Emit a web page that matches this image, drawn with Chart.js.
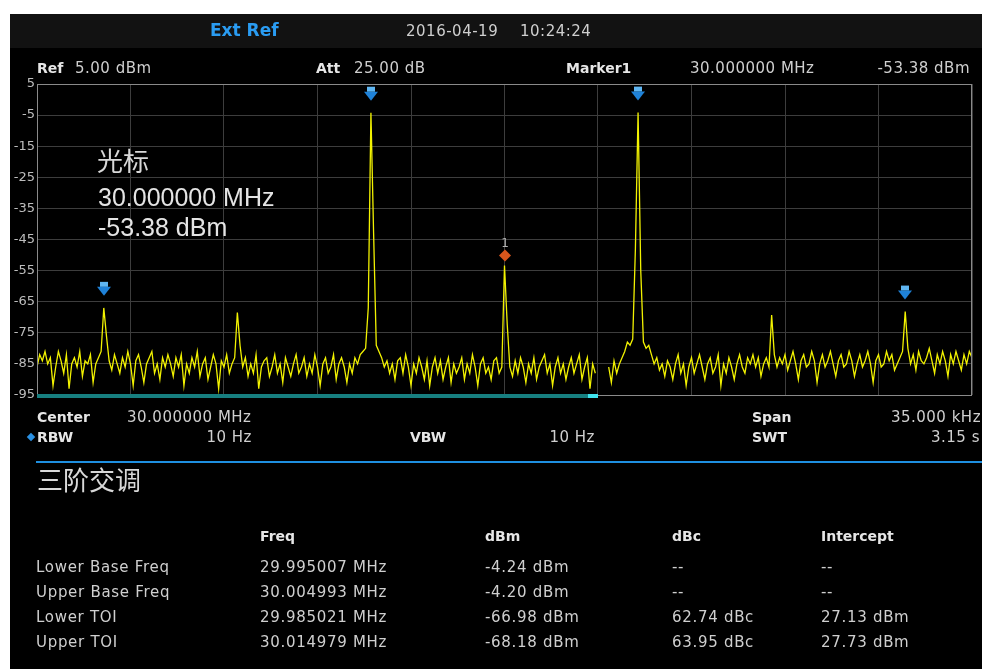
<!DOCTYPE html>
<html>
<head>
<meta charset="utf-8">
<script src="https://cdn.jsdelivr.net/npm/chart.js@4/dist/chart.umd.min.js"></script>
<style>
    html, body { margin: 0; padding: 0; background: #ffffff; }
    #screen { position: absolute; left: 10px; top: 14px; width: 972px; height: 655px; background: #000000; }
    #topbar { position: absolute; left: 10px; top: 14px; width: 972px; height: 34px; background: #121212; }
    #chart-box { position: absolute; left: 0; top: 0; width: 982px; height: 669px; }
    .t { position: absolute; white-space: nowrap; height: 20px; line-height: 20px; font-family: "DejaVu Sans", sans-serif; font-size: 15px; letter-spacing: 0.5px; color: #cfcfcf; }
    .b { font-weight: bold; font-size: 14px; letter-spacing: 0; color: #e6e6e6; }
    .tb { letter-spacing: 0.7px; }
    .r { text-align: right; }
    .big { font-family: "Liberation Sans", Arial, sans-serif; font-size: 25px; letter-spacing: 0; color: #e4e4e4; height: 30px; line-height: 30px; }
    .cjk { font-family: "Noto Sans CJK SC", sans-serif; font-size: 26px; letter-spacing: 0; color: #d8d8d8; height: 30px; line-height: 30px; }
    #sep { position: absolute; left: 36px; top: 461px; width: 946px; height: 2px; background: #1e8fe0; }
    #rbw-dot { position: absolute; left: 28px; top: 434px; width: 6px; height: 6px; background: #2a90e2; transform: rotate(45deg); }
</style>
</head>
<body>
<div id="screen"></div>
<div id="topbar"></div>
<div id="chart-box"><canvas id="spectrum"></canvas></div>
<div id="sep"></div>
<div id="rbw-dot"></div>
<div id="texts"></div>
<script>
    // sweep: 351 points, 100 Hz apart, 29.9825 .. 30.0175 MHz
    const sweepStartMHz = 29.9825;
    const sweepStopMHz = 30.0175;
    const sweepStepMHz = 0.0001;

    const levelTicks = [5, -5, -15, -25, -35, -45, -55, -65, -75, -85, -95];

    const traceLevels = [
        -86, -82, -84, -81, -85, -83, -92, -86, -81, -84, -88, -82, -93, -85, -83, -86, -81, -89, -84, -85, -82, -91, -85, -83, -81,
        -67,
        -76, -84, -87, -82, -85, -88, -83, -86, -81, -85, -92, -84, -82, -86, -91, -85, -83, -81, -88, -85, -90, -83, -86, -82,
        -85, -89, -83, -86, -82, -92, -85, -88, -83, -86, -81, -89, -85, -83, -90, -86, -82, -85, -93, -84, -86, -82, -88, -85, -83,
        -68.5,
        -79, -86, -83, -89, -85, -88, -82, -93, -86, -84, -83, -89, -86, -82, -88, -85, -91, -83, -86, -89, -85, -82, -88, -86,
        -83, -89, -85, -88, -82, -86, -92, -85, -83, -88, -86, -82, -90, -85, -83, -86, -91, -85, -88, -83, -85, -82, -81, -80, -67,
        -4.24,
        -43, -79, -81, -83, -86, -84, -88, -85, -90, -84, -83, -88, -82, -86, -92, -85, -88, -83, -86, -90, -84, -92, -86, -83,
        -88, -84, -90, -86, -83, -91, -85, -88, -86, -83, -90, -85, -88, -82, -86, -92, -85, -83, -88, -86, -90, -84, -83, -88, -86,
        -53.38,
        -72, -86, -89, -84, -88, -83, -86, -91, -85, -88, -83, -90, -86, -84, -82, -88, -85, -92, -86, -83, -88, -85, -90, -86,
        -83, -88, -85, -82, -90, -86, -83, -93, -85, -88,
        null, null, null, null,
        -86, -91, -84, -88, -85, -83, -81, -78, -79, -77, -48,
        -4.20,
        -55, -78, -80, -79, -82, -85, -83, -87, -85, -89, -84, -86, -90, -85, -82, -88, -85, -92, -86, -83, -88, -85, -82, -86,
        -90, -85, -83, -88, -86, -82, -92, -85, -88, -83, -86, -90, -85, -82, -86, -88, -83, -85, -82, -86, -83, -89, -85, -83, -86,
        -69.3,
        -82, -86, -83, -85, -82, -87, -84, -81, -85, -90, -84, -82, -86, -85, -81, -84, -91, -85, -82, -86, -84, -81, -85, -89,
        -84, -82, -86, -85, -81, -84, -89, -85, -82, -86, -84, -81, -85, -91, -84, -82, -86, -85, -81, -84, -82, -87, -85, -83, -81,
        -68.18,
        -80, -85, -82, -87, -81, -84, -85, -83, -80, -84, -88, -82, -85, -81, -84, -89, -82, -85, -81, -84, -87, -82, -85, -81, -83
    ];

    // third order intermod table
    const toiRows = ['Lower Base Freq', 'Upper Base Freq', 'Lower TOI', 'Upper TOI'];
    const toiFreqMHz = [29.995007, 30.004993, 29.985021, 30.014979];
    const toiLevels = [-4.24, -4.20, -66.98, -68.18];
    const toiDbc = [null, null, 62.74, 63.95];
    const toiIntercept = [null, null, 27.13, 27.73];

    const marker1FreqMHz = 30.000000;
    const marker1Level = -53.38;

    function addText(text, left, centerY, cls, alignRight) {
        const el = document.createElement('div');
        el.className = 't' + (cls ? ' ' + cls : '') + (alignRight ? ' r' : '');
        el.textContent = text;
        const h = (cls && (cls.indexOf('big') >= 0 || cls.indexOf('cjk') >= 0)) ? 30 : 20;
        el.style.top = (centerY - h / 2) + 'px';
        if (alignRight) {
            el.style.right = (982 - left) + 'px';
        } else {
            el.style.left = left + 'px';
        }
        document.getElementById('texts').appendChild(el);
        return el;
    }

    function dash(v, unit) {
        return v === null ? '--' : v.toFixed(2) + ' ' + unit;
    }

    // top bar
    const extRef = addText('Ext Ref', 210, 30, 'b');
    extRef.style.fontSize = '17px';
    extRef.style.color = '#2a9cf2';
    addText('2016-04-19', 406, 31);
    addText('10:24:24', 520, 31);

    // header
    addText('Ref', 37, 68, 'b');
    addText('5.00 dBm', 75, 68);
    addText('Att', 316, 68, 'b');
    addText('25.00 dB', 354, 68);
    addText('Marker1', 566, 68, 'b');
    addText(marker1FreqMHz.toFixed(6) + ' MHz', 690, 68);
    addText(marker1Level.toFixed(2) + ' dBm', 970, 68, '', true);

    // marker readout
    addText('光标', 97, 160, 'cjk');
    addText(marker1FreqMHz.toFixed(6) + ' MHz', 98, 197, 'big');
    addText(marker1Level.toFixed(2) + ' dBm', 98, 227, 'big');

    // footer
    addText('Center', 37, 417, 'b');
    addText('30.000000 MHz', 127, 417);
    addText('Span', 752, 417, 'b');
    addText('35.000 kHz', 981, 417, '', true);
    addText('RBW', 37, 437, 'b');
    addText('10 Hz', 252, 437, '', true);
    addText('VBW', 410, 437, 'b');
    addText('10 Hz', 595, 437, '', true);
    addText('SWT', 752, 437, 'b');
    addText('3.15 s', 980, 437, '', true);

    // measurement table
    addText('三阶交调', 37, 479, 'cjk');
    const colX = [36, 260, 485, 672, 821];
    ['Freq', 'dBm', 'dBc', 'Intercept'].forEach(function (h, k) {
        addText(h, colX[k + 1], 536, 'b');
    });
    toiRows.forEach(function (name, r) {
        const cy = 567 + r * 25;
        addText(name, colX[0], cy, 'tb');
        addText(toiFreqMHz[r].toFixed(6) + ' MHz', colX[1], cy, 'tb');
        addText(toiLevels[r].toFixed(2) + ' dBm', colX[2], cy, 'tb');
        addText(dash(toiDbc[r], 'dBc'), colX[3], cy, 'tb');
        addText(dash(toiIntercept[r], 'dBm'), colX[4], cy, 'tb');
    });

    const tracePoints = traceLevels.map(function (v, i) {
        return { x: sweepStartMHz + i * sweepStepMHz, y: v };
    });

    function drawArrow(ctx, x, y) {
        ctx.fillStyle = '#5fb6f2';
        ctx.fillRect(x - 4, y - 8, 8, 5);
        ctx.fillStyle = '#1f82d8';
        ctx.beginPath();
        ctx.moveTo(x - 7, y - 3);
        ctx.lineTo(x + 7, y - 3);
        ctx.lineTo(x, y + 6);
        ctx.closePath();
        ctx.fill();
    }

    const overlayPlugin = {
        id: 'overlay',
        afterDraw: function (chart) {
            const ctx = chart.ctx;
            const area = chart.chartArea;
            const xs = chart.scales.x;
            const ys = chart.scales.y;
            ctx.save();

            // frame
            ctx.strokeStyle = '#8a8a8a';
            ctx.lineWidth = 1;
            ctx.strokeRect(area.left + 0.5, area.top + 0.5, area.right - area.left - 1, area.bottom - area.top);

            // sweep progress bar
            const doneIdx = traceLevels.indexOf(null);
            const doneX = xs.getPixelForValue(sweepStartMHz + doneIdx * sweepStepMHz);
            ctx.fillStyle = '#177f80';
            ctx.fillRect(area.left, area.bottom - 1, doneX - area.left, 4);
            ctx.fillStyle = '#3fe3ee';
            ctx.fillRect(doneX - 10, area.bottom - 1, 10, 4);

            // peak arrows from the table
            toiFreqMHz.forEach(function (f, k) {
                drawArrow(ctx, Math.round(xs.getPixelForValue(f)), ys.getPixelForValue(toiLevels[k]) - 18);
            });

            // marker 1
            const mx = Math.round(xs.getPixelForValue(marker1FreqMHz));
            const my = ys.getPixelForValue(marker1Level) - 10;
            ctx.fillStyle = '#d9561c';
            ctx.beginPath();
            ctx.moveTo(mx, my - 6);
            ctx.lineTo(mx + 6, my);
            ctx.lineTo(mx, my + 6);
            ctx.lineTo(mx - 6, my);
            ctx.closePath();
            ctx.fill();
            ctx.fillStyle = '#b0b0b0';
            ctx.font = '12px "DejaVu Sans", sans-serif';
            ctx.textAlign = 'center';
            ctx.textBaseline = 'middle';
            ctx.fillText('1', mx, my - 12);

            ctx.restore();
        }
    };

    new Chart(document.getElementById('spectrum').getContext('2d'), {
        type: 'line',
        data: {
            datasets: [
                {
                    label: 'Trace',
                    data: tracePoints,
                    borderColor: '#f2f200',
                    borderWidth: 1.3,
                    pointRadius: 0,
                    tension: 0,
                    spanGaps: false
                }
            ]
        },
        options: {
            responsive: true,
            maintainAspectRatio: false,
            animation: false,
            events: [],
            layout: {
                padding: { left: 0, top: 84, right: 10, bottom: 274 }
            },
            plugins: {
                legend: { display: false },
                tooltip: { enabled: false }
            },
            scales: {
                x: {
                    type: 'linear',
                    min: sweepStartMHz,
                    max: sweepStopMHz,
                    ticks: { display: false },
                    grid: { color: '#3d3d3d', drawTicks: false },
                    border: { display: false },
                    afterBuildTicks: function (scale) {
                        const ticks = [];
                        for (let k = 0; k <= 10; k++) {
                            ticks.push({ value: sweepStartMHz + k * (sweepStopMHz - sweepStartMHz) / 10 });
                        }
                        scale.ticks = ticks;
                    },
                    afterFit: function (scale) {
                        scale.height = 0;
                    }
                },
                y: {
                    min: levelTicks[levelTicks.length - 1],
                    max: levelTicks[0],
                    afterBuildTicks: function (scale) {
                        scale.ticks = levelTicks.map(function (v) {
                            return { value: v };
                        });
                    },
                    ticks: {
                        color: '#bdbdbd',
                        padding: 2,
                        font: { family: '"DejaVu Sans", sans-serif', size: 13 }
                    },
                    grid: { color: '#3d3d3d', drawTicks: false },
                    border: { display: false },
                    afterFit: function (scale) {
                        scale.width = 37;
                    }
                }
            }
        },
        plugins: [overlayPlugin]
    });
</script>
</body>
</html>
